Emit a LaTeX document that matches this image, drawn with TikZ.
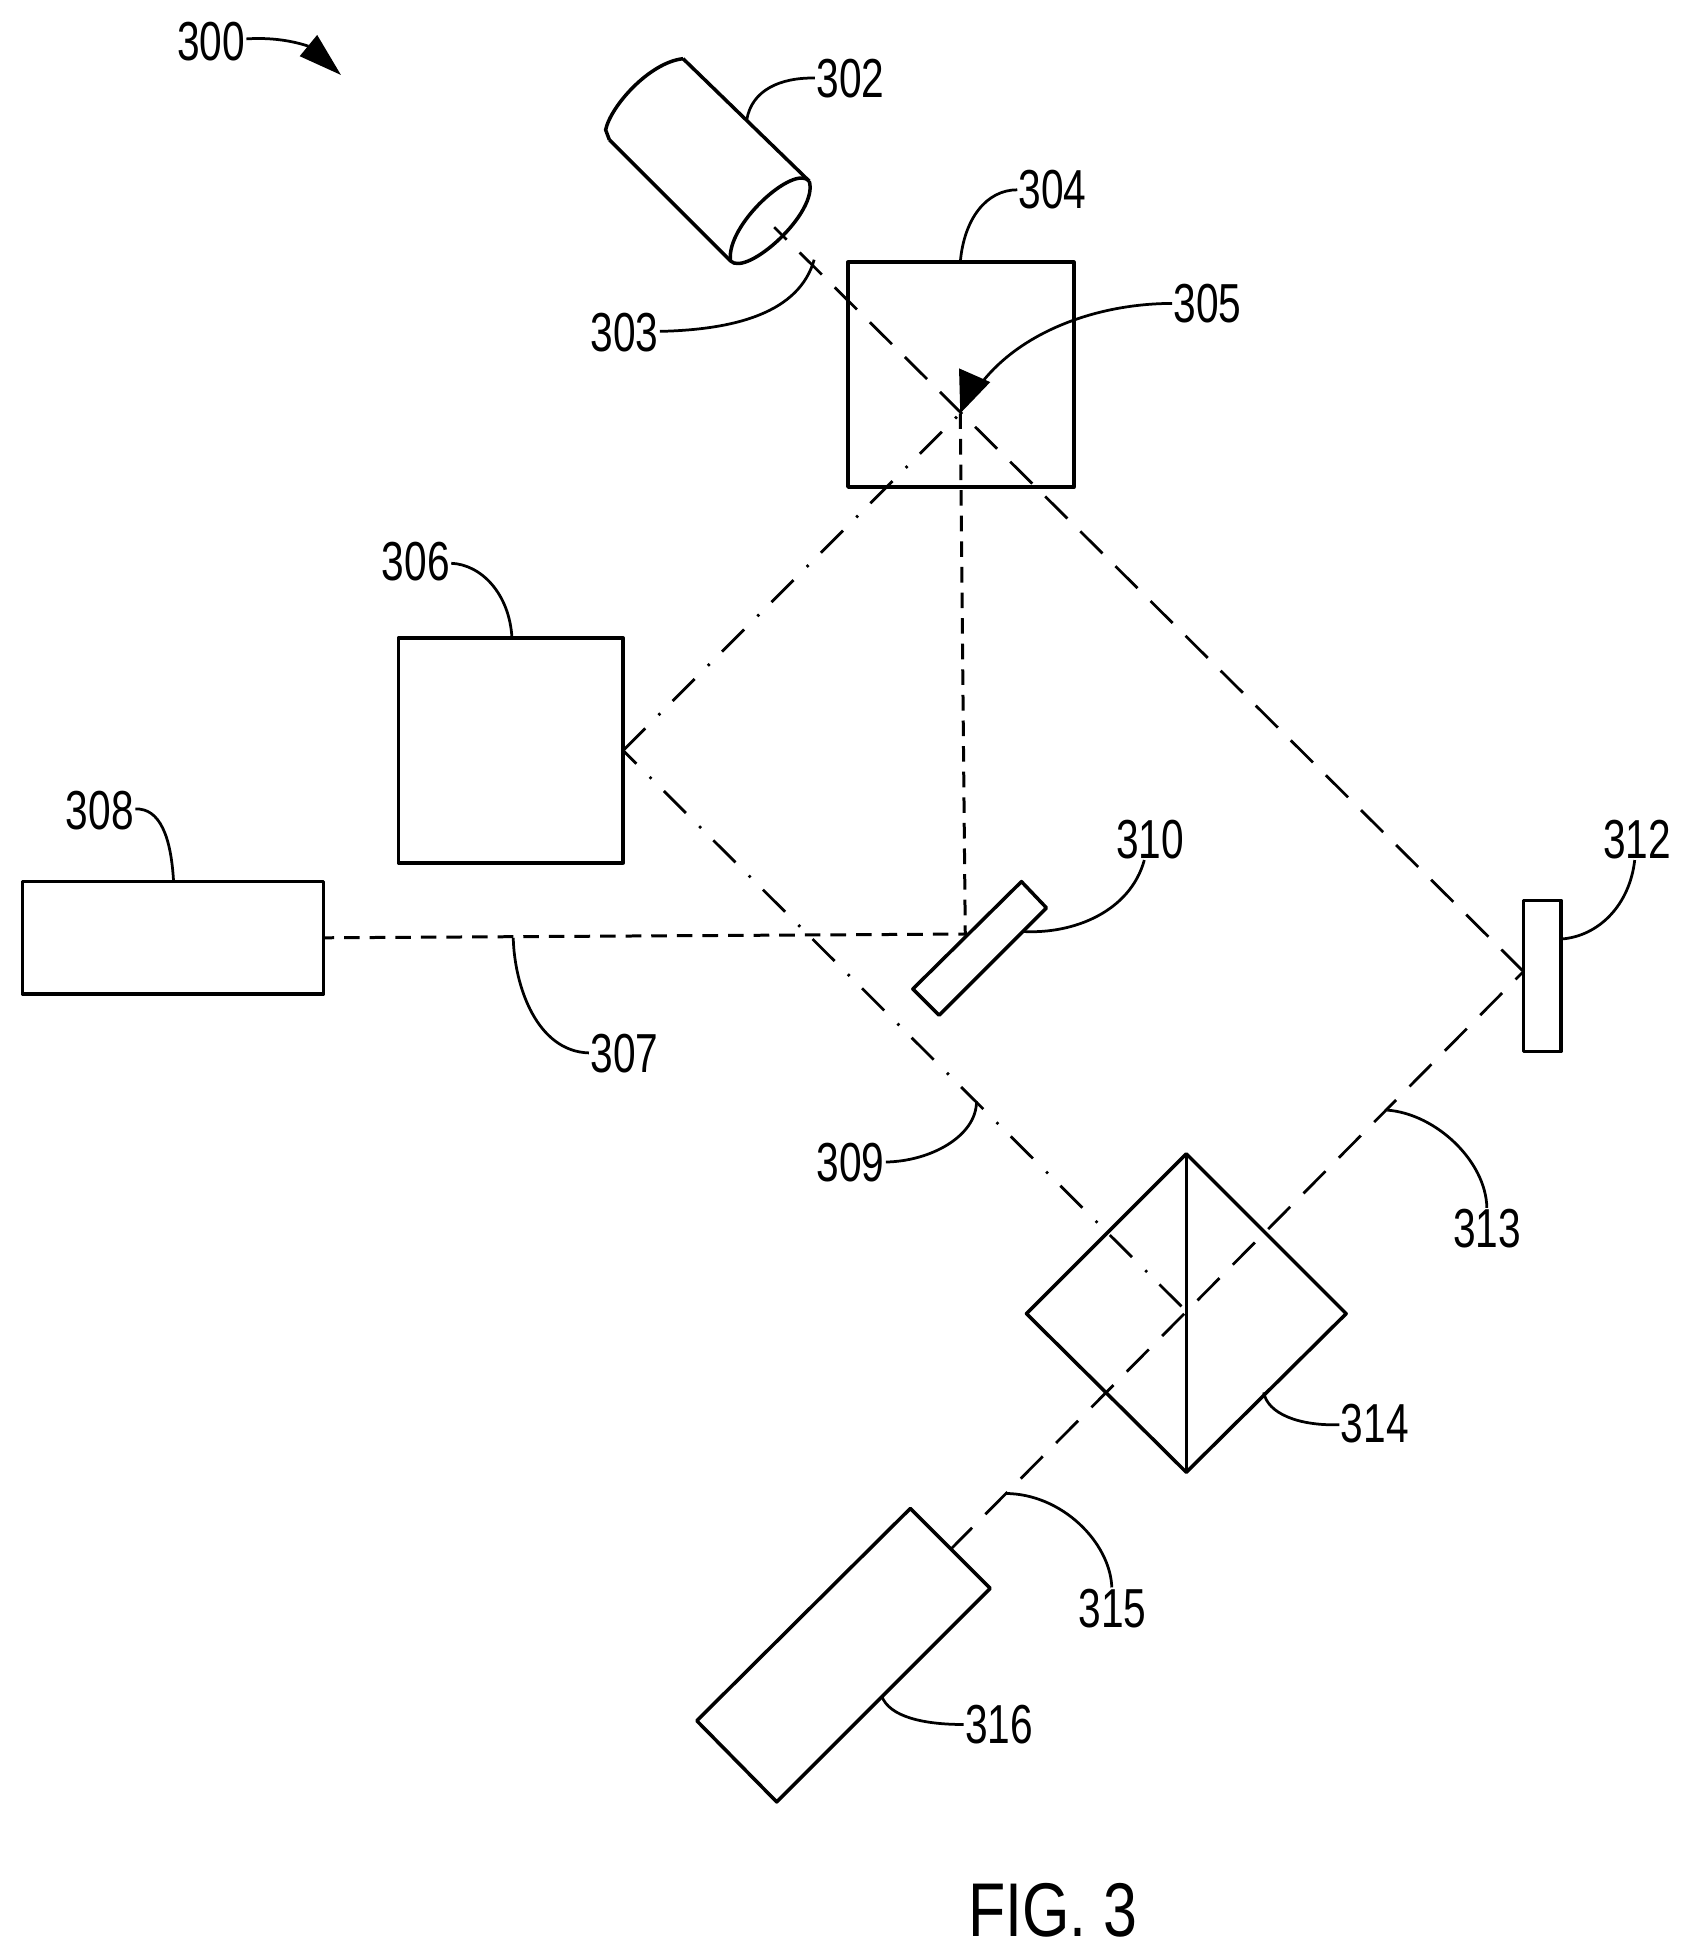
\documentclass[tikz,border=0pt]{standalone}
\usepackage{fontspec}
\usepackage{xcolor}
\usepackage{tikz}
\usetikzlibrary{calc}
\newfontfamily\numfont[FakeStretch=0.74]{Liberation Sans}
\newfontfamily\figfont[FakeStretch=0.8]{Liberation Sans}
\tikzset{
	part/.style={line width=2.8pt,line join=round},
	leader/.style={line width=2.2pt},
	longbeam/.style={line width=2.2pt,dash pattern=on 25pt off 14.6pt},
	lowbeam/.style={line width=2.2pt,dash pattern=on 25pt off 15.2pt,dash phase=16pt},
	shortbeam/.style={line width=2.4pt,dash pattern=on 12.5pt off 8pt},
	dotbeam/.style={line width=2.2pt,dash pattern=on 25pt off 15pt on 2pt off 14pt},
	num/.style={font=\numfont\fontsize{44}{44}\selectfont,inner sep=1pt},
}
\begin{document}
\begin{tikzpicture}[x=1pt,y=-1pt]
	\useasboundingbox (0,0) rectangle (1351,1567.2);
	\coordinate (camA) at (547,47);
	\coordinate (camB) at (648,145);
	\coordinate (camC) at (585,209);
	\coordinate (camD) at (488,112);
	\coordinate (camE) at (485,104);
	\coordinate (splitA) at (679,210);
	\coordinate (splitB) at (860,210);
	\coordinate (splitC) at (860,390);
	\coordinate (splitD) at (679,390);
	\coordinate (boxA) at (319,511);
	\coordinate (boxB) at (499,511);
	\coordinate (boxC) at (499,691);
	\coordinate (boxD) at (319,691);
	\coordinate (lampA) at (18,706);
	\coordinate (lampB) at (259,706);
	\coordinate (lampC) at (259,796);
	\coordinate (lampD) at (18,796);
	\coordinate (foldA) at (818,706);
	\coordinate (foldB) at (838,727);
	\coordinate (foldC) at (752,813);
	\coordinate (foldD) at (731,792);
	\coordinate (mirrA) at (1220,721);
	\coordinate (mirrB) at (1250,721);
	\coordinate (mirrC) at (1250,842);
	\coordinate (mirrD) at (1220,842);
	\coordinate (cubeA) at (950,924);
	\coordinate (cubeB) at (1078,1052);
	\coordinate (cubeC) at (950,1179);
	\coordinate (cubeD) at (822,1052);
	\coordinate (sensA) at (729,1208);
	\coordinate (sensB) at (793,1272);
	\coordinate (sensC) at (622,1443);
	\coordinate (sensD) at (558,1378);
	\coordinate (O) at (620,182);
	\coordinate (P) at (769,331);
	\coordinate (Q) at (1220,778);
	\coordinate (R) at (762,1240);
	\coordinate (S) at (499,601);
	\coordinate (T) at (950,1050);
	\coordinate (U) at (773,748);
	\coordinate (V) at (259,751);
	\draw[part] (camA) -- (camB) (camD) -- (camC);
	\draw[part] (camA) .. controls (520,50) and (489,85) .. (camE) -- (camD);
	\draw[part] (camB) .. controls (636,131) and (581,180) .. (camC) .. controls (598,222) and (656,170) .. (camB);
	\draw[part] (splitA) -- (splitB) -- (splitC) -- (splitD) -- cycle;
	\draw[part] (boxA) -- (boxB) -- (boxC) -- (boxD) -- cycle;
	\draw[part] (lampA) -- (lampB) -- (lampC) -- (lampD) -- cycle;
	\draw[part] (foldA) -- (foldB) -- (foldC) -- (foldD) -- cycle;
	\draw[part] (mirrA) -- (mirrB) -- (mirrC) -- (mirrD) -- cycle;
	\draw[part] (cubeA) -- (cubeB) -- (cubeC) -- (cubeD) -- cycle;
	\draw[part] (cubeA) -- (cubeC);
	\draw[part] (sensA) -- (sensB) -- (sensC) -- (sensD) -- cycle;
	\draw[longbeam] (Q) -- (O);
	\draw[lowbeam] (Q) -- (R);
	\draw[dotbeam] (S) -- (P);
	\draw[dotbeam,dash phase=10pt] (S) -- (T);
	\draw[shortbeam] (P) -- (U) -- (V);
	\node[num] (n300) at (169,33) {300};
	\node[num] (n302) at (681,63) {302};
	\node[num] (n303) at (500,266) {303};
	\node[num] (n304) at (843,152) {304};
	\node[num] (n305) at (967,243) {305};
	\node[num] (n306) at (333,450) {306};
	\node[num] (n307) at (500,844) {307};
	\node[num] (n308) at (80,649) {308};
	\node[num] (n309) at (681,931) {309};
	\node[num] (n310) at (921,672) {310};
	\node[num] (n312) at (1311,672) {312};
	\node[num] (n313) at (1191,984) {313};
	\node[num] (n314) at (1101,1140) {314};
	\node[num] (n315) at (891,1288) {315};
	\node[num] (n316) at (800,1381) {316};
	\node[font=\figfont\fontsize{61}{61}\selectfont,inner sep=1pt] (fig) at (843,1530) {FIG. 3};
	\coordinate (a300) at (247,37);
	\coordinate (a302) at (598,96);
	\coordinate (a303) at (652,208);
	\coordinate (a304) at (769,210);
	\coordinate (a305) at (782,312);
	\coordinate (a306) at (410,511);
	\coordinate (a307) at (411,751);
	\coordinate (a308) at (139,706);
	\coordinate (a309) at (782,882);
	\coordinate (a310) at (820,746);
	\coordinate (a312) at (1250,752);
	\coordinate (a313) at (1111,889);
	\coordinate (a314) at (1012,1115);
	\coordinate (a315) at (805,1196);
	\coordinate (a316) at (706,1358);
	\draw[leader] (n300) .. controls (215,30) and (232,32) .. (a300);
	\draw[leader] (n302) .. controls (625,62) and (602,72) .. (a302);
	\draw[leader] (n303) .. controls (590,264) and (640,250) .. (a303);
	\draw[leader] (n304) .. controls (790,152) and (772,175) .. (a304);
	\draw[leader] (n305) .. controls (880,243) and (815,265) .. (a305);
	\draw[leader] (n306) .. controls (385,452) and (408,475) .. (a306);
	\draw[leader] (n307) .. controls (430,842) and (412,790) .. (a307);
	\draw[leader] (n308) .. controls (128,647) and (137,670) .. (a308);
	\draw[leader] (n309) .. controls (745,930) and (782,910) .. (a309);
	\draw[leader] (n310) .. controls (905,730) and (860,748) .. (a310);
	\draw[leader] (n312) .. controls (1305,725) and (1280,750) .. (a312);
	\draw[leader] (n313) .. controls (1190,930) and (1150,892) .. (a313);
	\draw[leader] (n314) .. controls (1040,1142) and (1015,1132) .. (a314);
	\draw[leader] (n315) .. controls (889,1235) and (850,1196) .. (a315);
	\draw[leader] (n316) .. controls (740,1381) and (712,1375) .. (a316);
	\fill (254,28) -- (273,60) -- (240,45) -- cycle;
	\fill (769,331) -- (768,295) -- (793,306) -- cycle;
\end{tikzpicture}
\end{document}
